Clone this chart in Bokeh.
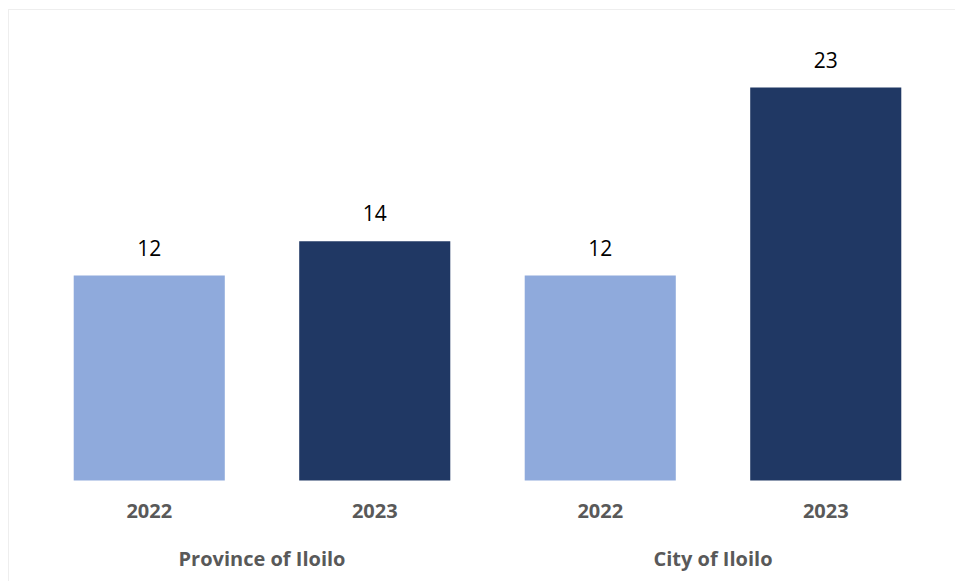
from bokeh.plotting import figure
from bokeh.models import FactorRange, Range1d, ColumnDataSource
from bokeh.core.properties import value
from bokeh.embed import file_html
from bokeh.resources import INLINE

# ---- data ----
groups = ["Province of Iloilo", "City of Iloilo"]
years = ["2022", "2023"]
values = [12, 14, 12, 23]
year_colors = {"2022": "#8FAADC", "2023": "#203864"}

factors = [(g, y) for g in groups for y in years]
src = ColumnDataSource(dict(
    x=factors,
    top=values,
    color=[year_colors[f[1]] for f in factors],
    label=[str(v) for v in values],
    year=[f[1] for f in factors],
    zero=[0] * len(factors),
))
gsrc = ColumnDataSource(dict(x=groups, zero=[0] * len(groups), label=groups))

FONT = value("Open Sans")

p = figure(
    width=955, height=581,
    x_range=FactorRange(factors=factors, factor_padding=0, group_padding=0, range_padding=0),
    y_range=Range1d(-5.91, 26.34),
    output_backend="svg", toolbar_location=None,
    x_axis_location=None, y_axis_location=None,
    min_border_left=36, min_border_right=17, min_border_top=30, min_border_bottom=0,
)
p.xgrid.visible = False
p.ygrid.visible = False
p.outline_line_color = None
p.border_fill_color = None
p.background_fill_color = None
p.styles = {
    "background": "linear-gradient(#EEEEEE, #EEEEEE) 8px 9px / 947px 1px no-repeat, "
                  "linear-gradient(#EEEEEE, #EEEEEE) 8px 9px / 1px 572px no-repeat",
}

p.vbar(x="x", top="top", bottom=0, width=0.67, color="color", source=src, line_color=None)

# value labels
p.text(x="x", y="top", text="label", source=src, y_offset=-28,
       text_align="center", text_baseline="alphabetic",
       text_font=FONT, text_font_size="21px", text_color="#000000")

# year labels
p.text(x="x", y="zero", text="year", source=src, y_offset=30,
       text_align="center", text_baseline="middle",
       text_font=FONT, text_font_style="bold", text_font_size="20px", text_color="#595959")

# group labels
p.text(x="x", y="zero", text="label", source=gsrc, y_offset=78,
       text_align="center", text_baseline="middle",
       text_font=FONT, text_font_style="bold", text_font_size="20px", text_color="#595959")

open("out.html", "w").write(file_html(p, INLINE))
